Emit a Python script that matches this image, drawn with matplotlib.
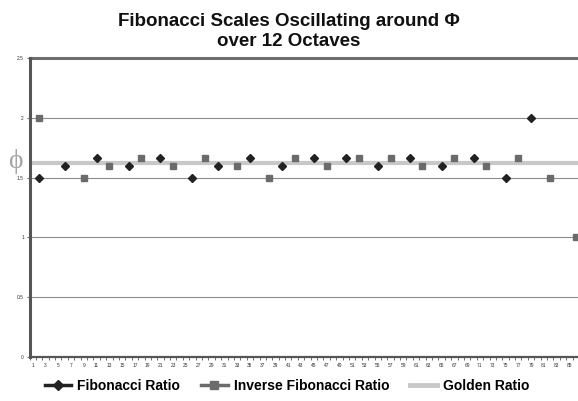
import matplotlib
matplotlib.use("Agg")
import matplotlib.pyplot as plt
from matplotlib.lines import Line2D
import numpy as np

# Data
categories = list(range(1, 87))
fib_x = [2, 6, 11, 16, 21, 26, 30, 35, 40, 45, 50, 55, 60, 65, 70, 75, 79]
fib_y = [1.5, 1.6, 1.667, 1.6, 1.667, 1.5, 1.6, 1.667, 1.6, 1.667, 1.667, 1.6, 1.667, 1.6, 1.667, 1.5, 2.0]
inv_x = [2, 9, 13, 18, 23, 28, 33, 38, 42, 47, 52, 57, 62, 67, 72, 77, 82, 86]
inv_y = [2.0, 1.5, 1.6, 1.667, 1.6, 1.667, 1.6, 1.5, 1.667, 1.6, 1.667, 1.667, 1.6, 1.667, 1.6, 1.667, 1.5, 1.0]
golden = 1.618
y_ticks = [0, 0.5, 1, 1.5, 2, 2.5]
y_tick_labels = ["0", "0.5", "1", "1.5", "2", "2.5"]
x_tick_labels = [str(c) for c in categories if c % 2 == 1]

plt.rcParams['font.family'] = ['Liberation Sans', 'DejaVu Sans']

fig = plt.figure(figsize=(5.78, 4.01), dpi=100)
ax = fig.add_axes([29.5/578, 1-357/401, (579-29.5)/578, (357-58)/401])

ax.set_xlim(0.5, 86.5)
ax.set_ylim(0, 2.5)

# gridlines
for yv in y_ticks[1:-1]:
    ax.axhline(yv, color='#8c8c8c', lw=0.8, zorder=1)
ax.axhline(2.5, color='#6e6e6e', lw=2.2, zorder=1, clip_on=False)

# golden ratio line
ax.plot([0.5, 86.5], [golden, golden], color='#c8c8c8', lw=3.0, zorder=2, solid_capstyle='butt')

ax.plot(fib_x, fib_y, linestyle='none', marker='D', markersize=4.0,
        color='#222222', zorder=4)
ax.plot(inv_x, inv_y, linestyle='none', marker='s', markersize=5.0,
        color='#6b6b6b', zorder=3)

# spines
for s in ['top', 'right']:
    ax.spines[s].set_visible(False)
ax.spines['left'].set_color('#555555')
ax.spines['left'].set_linewidth(2.2)
ax.spines['bottom'].set_color('#555555')
ax.spines['bottom'].set_linewidth(1.6)

ax.set_yticks(y_ticks)
ax.set_yticklabels(y_tick_labels, fontsize=3.5, color='#333333')
ax.tick_params(axis='y', length=2, width=0.6, pad=2, color='#555555')

ax.set_xticks([c for c in categories if c % 2 == 1])
ax.set_xticklabels(x_tick_labels, fontsize=3.5, color='#333333')
ax.set_xticks(np.arange(0.5, 87, 1), minor=True)
ax.tick_params(axis='x', which='major', length=0, pad=4)
ax.tick_params(axis='x', which='minor', length=2.5, width=0.6, color='#555555', direction='out')

# y axis label phi
fig.text(15/578, 1-161/401, "ϕ", fontsize=20, color='#a6a6a6',
         family=['Liberation Serif', 'DejaVu Serif'], ha='center', va='center')

fig.text(0.5, 1-21/401, "Fibonacci Scales Oscillating around Φ", fontsize=13.5,
         fontweight='bold', ha='center', va='center', color='#111111')
fig.text(0.5, 1-42/401, "over 12 Octaves", fontsize=13.5,
         fontweight='bold', ha='center', va='center', color='#111111')

handles = [
    Line2D([], [], color='#222222', lw=2.5, marker='D', markersize=5),
    Line2D([], [], color='#6b6b6b', lw=2.5, marker='s', markersize=5.5),
    Line2D([], [], color='#c8c8c8', lw=3.5),
]
labels = ["Fibonacci Ratio", "Inverse Fibonacci Ratio", "Golden Ratio"]
fig.legend(handles, labels, loc='center', bbox_to_anchor=(287/578, 1-386/401), ncol=3,
           frameon=False, prop={'weight': 'bold', 'size': 10}, handlelength=1.9,
           columnspacing=1.5, handletextpad=0.45)

fig.savefig("out.png", dpi=100)
